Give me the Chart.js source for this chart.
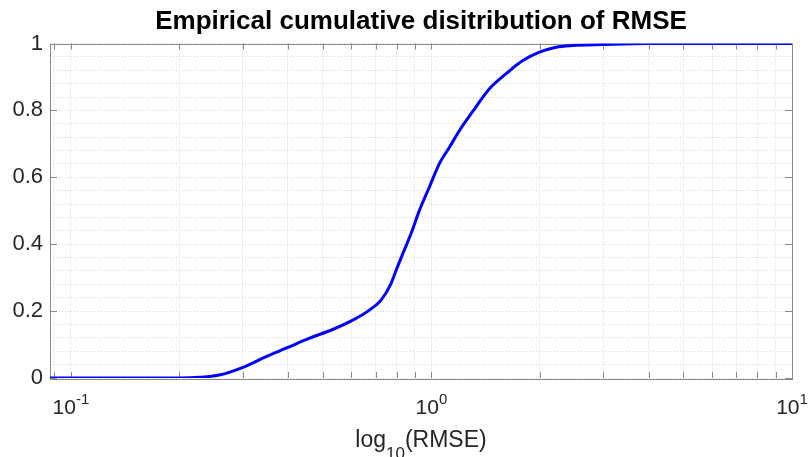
<!DOCTYPE html>
<html>
<head>
<meta charset="utf-8">
<script src="https://cdn.jsdelivr.net/npm/chart.js@4.4.1/dist/chart.umd.min.js"></script>
<style>
  html, body { margin: 0; padding: 0; background: #fff; }
  #wrap { width: 809px; height: 457px; }
</style>
</head>
<body>
<div id="wrap"><canvas id="ecdfChart" width="809" height="457"></canvas></div>
<script>
// RMSE values, with the matching empirical CDF
const rmseValues = [0.0875, 0.2, 0.227, 0.258, 0.300, 0.348, 0.395, 0.459, 0.532, 0.605, 0.673, 0.725,
    0.773, 0.798, 0.833, 0.878, 0.926, 0.987, 1.052, 1.122, 1.196, 1.302, 1.448, 1.612, 1.792,
    1.993, 2.218, 2.461, 2.981, 4.0, 10];
const cdfValues = [0, 0, 0.002, 0.009, 0.032, 0.064, 0.089, 0.119, 0.145, 0.173, 0.203, 0.233,
    0.283, 0.322, 0.372, 0.432, 0.501, 0.571, 0.641, 0.690, 0.740, 0.797, 0.865, 0.910, 0.949,
    0.974, 0.989, 0.994, 0.997, 1.0, 1.0];

// axis ticks
const xMin = 0.0875, xMax = 10;
const xGridValues = [0.09, 0.1, 0.2, 0.3, 0.4, 0.5, 0.6, 0.7, 0.8, 0.9, 1, 2, 3, 4, 5, 6, 7, 8, 9, 10];
const xMajorTicks = [0.1, 1, 10];
const xMajorLabels = [['10', '-1'], ['10', '0'], ['10', '1']];
const yMajorTicks = [0, 0.2, 0.4, 0.6, 0.8, 1];

const FONT = '"Liberation Sans", Arial, Helvetica, sans-serif';
const TEXT_COLOR = '#262626';
const BOX_COLOR = '#8a8a8a';

// MATLAB style box, inward ticks and the x labels with super/subscripts
const matlabAxes = {
    id: 'matlabAxes',
    beforeDatasetsDraw(chart) {
        const { ctx, chartArea: a, scales: { x, y } } = chart;
        ctx.save();
        ctx.strokeStyle = BOX_COLOR;
        ctx.lineWidth = 1;
        ctx.beginPath();
        xGridValues.forEach(v => {
            const px = Math.round(x.getPixelForValue(v)) + 0.5;
            ctx.moveTo(px, a.bottom); ctx.lineTo(px, a.bottom - 6);
            ctx.moveTo(px, a.top); ctx.lineTo(px, a.top + 6);
        });
        yMajorTicks.forEach(v => {
            const py = Math.round(y.getPixelForValue(v)) + 0.5;
            ctx.moveTo(a.left, py); ctx.lineTo(a.left + 7, py);
            ctx.moveTo(a.right, py); ctx.lineTo(a.right - 7, py);
        });
        ctx.stroke();
        ctx.strokeRect(Math.round(a.left) + 0.5, Math.round(a.top) + 0.5,
            Math.round(a.right - a.left), Math.round(a.bottom - a.top));

        // x tick labels: 10^n
        ctx.fillStyle = TEXT_COLOR;
        ctx.textBaseline = 'alphabetic';
        ctx.textAlign = 'left';
        xMajorTicks.forEach((v, i) => {
            const [base, exp] = xMajorLabels[i];
            ctx.font = '21px ' + FONT;
            const wb = ctx.measureText(base).width;
            ctx.font = '15px ' + FONT;
            const we = ctx.measureText(exp).width;
            const left = x.getPixelForValue(v) - (wb + we) / 2;
            ctx.font = '21px ' + FONT;
            ctx.fillText(base, left, 414);
            ctx.font = '15px ' + FONT;
            ctx.fillText(exp, left + wb, 404);
        });

        // x axis title: log_10(RMSE)
        const parts = [['log', 23, 447], ['10', 17, 459], ['(RMSE)', 23, 447]];
        let total = 0;
        parts.forEach(p => { ctx.font = p[1] + 'px ' + FONT; total += ctx.measureText(p[0]).width; });
        let cx = (a.left + a.right) / 2 - total / 2;
        parts.forEach(p => {
            ctx.font = p[1] + 'px ' + FONT;
            ctx.fillText(p[0], cx, p[2]);
            cx += ctx.measureText(p[0]).width;
        });
        ctx.restore();
    }
};

const ctx = document.getElementById('ecdfChart').getContext('2d');
const ecdfChart = new Chart(ctx, {
    type: 'line',
    data: {
        datasets: [{
            label: 'ECDF',
            data: rmseValues.map((r, i) => ({ x: r, y: cdfValues[i] })),
            borderColor: '#0000ff',
            borderWidth: 3,
            pointRadius: 0,
            cubicInterpolationMode: 'monotone',
            fill: false
        }]
    },
    options: {
        responsive: false,
        animation: false,
        layout: { padding: { left: 0, right: 17, top: 0, bottom: 0 } },
        plugins: {
            legend: { display: false },
            tooltip: { enabled: false },
            title: {
                display: true,
                fullSize: false,
                text: 'Empirical cumulative disitribution of RMSE',
                color: '#000',
                font: { family: FONT, size: 26, weight: 'bold', lineHeight: 1.2 },
                padding: { top: 6.4, bottom: 5.9 }
            }
        },
        scales: {
            x: {
                type: 'logarithmic',
                min: xMin,
                max: xMax,
                afterBuildTicks: scale => { scale.ticks = xGridValues.map(v => ({ value: v })); },
                afterFit: scale => { scale.height = 79; },
                ticks: { display: false, autoSkip: false },
                grid: { color: '#d6d6d6', drawTicks: false, lineWidth: 1 },
                border: { display: false, dash: [1, 2] }
            },
            y: {
                min: 0,
                max: 1,
                afterFit: scale => { scale.width = 50; },
                ticks: {
                    stepSize: 0.04,
                    maxTicksLimit: 100,
                    autoSkip: false,
                    padding: 7,
                    color: TEXT_COLOR,
                    font: { family: FONT, size: 22 },
                    callback: v => Math.abs(v * 5 - Math.round(v * 5)) < 1e-6 ? String(Math.round(v * 5) / 5) : ''
                },
                grid: { color: '#d6d6d6', drawTicks: false, lineWidth: 1 },
                border: { display: false, dash: [1, 2] }
            }
        }
    },
    plugins: [matlabAxes]
});
</script>
</body>
</html>
